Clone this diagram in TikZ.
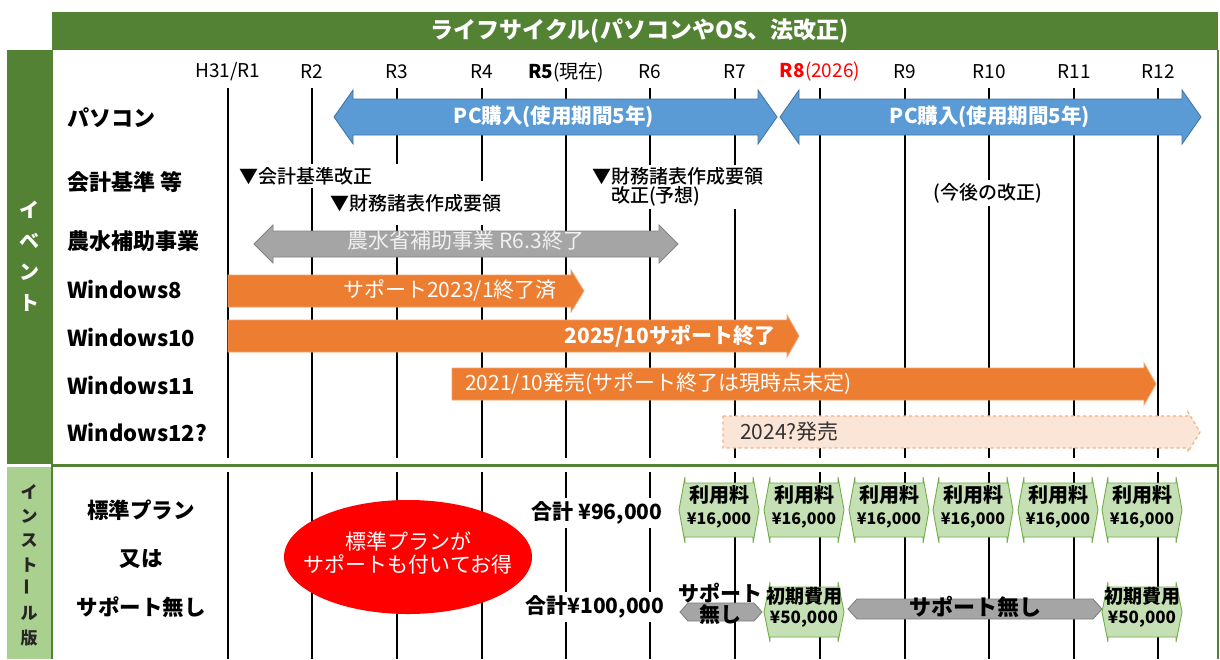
\documentclass[tikz,border=0pt]{standalone}
\usepackage{fontspec}
\setmainfont{Noto Sans CJK JP}
\newfontfamily\medfont{Noto Sans CJK JP}[UprightFont={* Medium}]
\usepackage{graphicx}

\definecolor{hdgreen}{HTML}{548235}
\definecolor{ltgreen}{HTML}{A9D08E}
\definecolor{pcblue}{HTML}{5B9BD5}
\definecolor{pcblueline}{HTML}{41719C}
\definecolor{hojogray}{HTML}{A5A5A5}
\definecolor{winorange}{HTML}{ED7D31}
\definecolor{winpeach}{HTML}{FBE5D6}
\definecolor{winpeachline}{HTML}{F4B183}
\definecolor{feegreen}{HTML}{C5E0B4}
\definecolor{feegreenline}{HTML}{70AD47}

% [style]{x from}{x to}{y}{shaft half}{head half}{head length}
\newcommand{\dblarrow}[7][]{%
  \path[#1] (#2,#4) -- ++(#7,-#6) -- ++(0,{#6-#5}) -- ({#3-#7},{#4-#5}) -- ++(0,{#5-#6}) -- (#3,#4)
    -- ++(-#7,#6) -- ++(0,{#5-#6}) -- ({#2+#7},{#4+#5}) -- ++(0,{#6-#5}) -- cycle;}
\newcommand{\onearrow}[7][]{%
  \path[#1] (#2,{#4-#5}) -- ({#3-#7},{#4-#5}) -- ++(0,{#5-#6}) -- (#3,#4)
    -- ({#3-#7},{#4+#6}) -- ++(0,{#5-#6}) -- (#2,{#4+#5}) -- cycle;}

\begin{document}
\begin{tikzpicture}[x=1pt, y=-1pt,
    yearlab/.style={font=\fontsize{19}{19}\selectfont},
    rowlab/.style={anchor=west, inner sep=0pt, font=\fontsize{22}{22}\selectfont\bfseries},
    notelab/.style={fill=white, inner sep=3pt, align=left, font=\fontsize{19}{19}\selectfont\medfont},
    bartext/.style={inner sep=0pt, text=white, font=\fontsize{21}{21}\selectfont},
    yline/.style={line width=1.2pt},
    pcbar/.style={fill=pcblue, draw=pcblueline, line width=0.8pt},
    hojobar/.style={fill=hojogray, draw=hojogray!80!black, line width=0.8pt},
    winbar/.style={fill=winorange, draw=winorange!70!white, line width=0.8pt},
    newbar/.style={fill=winpeach, draw=winpeachline, dashed, line width=1.2pt},
    feebox/.style={fill=feegreen, draw=feegreenline, line width=0.9pt},
    nosupbar/.style={fill=hojogray, draw=hojogray!75!black, line width=0.8pt},
    feetext/.style={inner sep=0pt, align=center, font=\fontsize{16}{22}\selectfont\bfseries},
    planlab/.style={inner sep=0pt, font=\fontsize{21.5}{21.5}\selectfont\bfseries},
    sumlab/.style={fill=white, inner sep=4pt, font=\fontsize{21}{21}\selectfont\bfseries},
  ]

  \useasboundingbox (0,0) rectangle (1220,659);
  \fill[white] (0,0) rectangle (1220,659);

  \fill[hdgreen] (52,12) rectangle (1218,50);
  \fill[hdgreen] (7,50) rectangle (52,464);
  \fill[ltgreen] (7,467) rectangle (52,659);
  \draw[hdgreen, line width=1.5pt] (52,50) -- (52,659);
  \draw[hdgreen, line width=1.5pt] (1218,50) -- (1218,659);

  \node[text=white, font=\fontsize{23}{23}\selectfont\bfseries] (ttl) at (640,31) {ライフサイクル(パソコンやOS、法改正)};
  \node[text=white, align=center, font=\fontsize{20}{31}\selectfont\bfseries] (ev) at (29,256) {イ\\ベ\\ン\\ト};
  \node[text=black!85, align=center, font=\fontsize{17}{24.3}\selectfont\bfseries] (inst) at (29,565) {イ\\ン\\ス\\ト\\\rotatebox{90}{ー}\\ル\\版};

  \node[yearlab] (h31) at (228,72) {H31/R1};
  \node[yearlab] (r2) at (312,72) {R2};
  \node[yearlab] (r3) at (397,72) {R3};
  \node[yearlab] (r4) at (482,72) {R4};
  \node[yearlab] (r5) at (566,72) {{\bfseries R5}(現在)};
  \node[yearlab] (r6) at (650,72) {R6};
  \node[yearlab] (r7) at (735,72) {R7};
  \node[yearlab, text=red] (r8) at (820,72) {{\bfseries R8}(2026)};
  \node[yearlab] (r9) at (905,72) {R9};
  \node[yearlab] (r10) at (989,72) {R10};
  \node[yearlab] (r11) at (1074,72) {R11};
  \node[yearlab] (r12) at (1158,72) {R12};

  \coordinate (top) at (0,88);
  \coordinate (bot) at (0,659);
  \draw[yline] (h31 |- top) -- (h31 |- bot);
  \draw[yline] (r2 |- top) -- (r2 |- bot);
  \draw[yline] (r3 |- top) -- (r3 |- bot);
  \draw[yline] (r4 |- top) -- (r4 |- bot);
  \draw[yline] (r5 |- top) -- (r5 |- bot);
  \draw[yline] (r6 |- top) -- (r6 |- bot);
  \draw[yline] (r7 |- top) -- (r7 |- bot);
  \draw[yline] (r8 |- top) -- (r8 |- bot);
  \draw[yline] (r9 |- top) -- (r9 |- bot);
  \draw[yline] (r10 |- top) -- (r10 |- bot);
  \draw[yline] (r11 |- top) -- (r11 |- bot);
  \draw[yline] (r12 |- top) -- (r12 |- bot);

  \fill[white] (53,458) rectangle (1217,472);
  \draw[hdgreen, line width=3pt] (52,465) -- (1218,465);

  \node[rowlab] (pasokon) at (67,118) {パソコン};
  \node[rowlab] (kaikei) at (67,182) {会計基準 等};
  \node[rowlab] (nosui) at (67,241) {農水補助事業};
  \node[rowlab] (win8) at (67,290) {Windows8};
  \node[rowlab] (win10) at (67,338) {Windows10};
  \node[rowlab] (win11) at (67,386) {Windows11};
  \node[rowlab] (win12) at (67,433) {Windows12?};

  \dblarrow[pcbar]{334}{777}{117}{18}{27}{19}
  \node[bartext, font=\fontsize{20.5}{20.5}\selectfont\bfseries] (pc1) at (554,117) {PC購入(使用期間5年)};
  \dblarrow[pcbar]{780}{1201}{117}{18}{27}{19}
  \node[bartext, font=\fontsize{20.5}{20.5}\selectfont\bfseries] (pc2) at (990,117) {PC購入(使用期間5年)};

  \node[notelab, anchor=west, minimum height=44pt] (yoryo) at (327,203) {▼財務諸表作成要領};
  \node[notelab, anchor=west, text width=158pt] (kijun) at (236,176) {▼会計基準改正};
  \node[notelab, anchor=west] (yoso) at (589,187) {▼財務諸表作成要領\\　改正(予想)};
  \node[notelab] (kongo) at (988,193) {(今後の改正)};

  \dblarrow[hojobar]{254}{678}{244}{13}{19}{19}
  \node[bartext, text=white!88!gray] (hojo) at (466,241) {農水省補助事業 R6.3終了};

  \onearrow[winbar]{228}{584}{291}{16}{21}{13}
  \node[bartext] (sup8) at (450,290) {サポート2023/1終了済};
  \onearrow[winbar]{228}{799}{336}{16}{21}{12}
  \node[bartext, font=\fontsize{21}{21}\selectfont\bfseries] (sup10) at (670,336) {2025/10サポート終了};
  \onearrow[winbar]{452}{1156}{384}{16}{21}{12}
  \node[bartext, anchor=west] (sup11) at (465,384) {2021/10発売(サポート終了は現時点未定)};
  \onearrow[newbar]{723}{1200}{432}{16}{20}{12}
  \node[bartext, anchor=west, text=black!80] (sup12) at (740,432) {2024?発売};

  \node[planlab] (std) at (141,510) {標準プラン};
  \node[planlab] (or) at (141,559) {又は};
  \node[planlab] (nosup) at (141,607) {サポート無し};

  \fill[red] (408,557) ellipse [x radius=124pt, y radius=57pt];
  \node[inner sep=0pt, text=white, align=center, font=\fontsize{21}{23}\selectfont] (otoku) at (408,553) {標準プランが\\サポートも付いてお得};

  \node[sumlab] (sum1) at (597,513) {合計 ¥96,000};
  \node[sumlab] (sum2) at (595,607) {合計¥100,000};

  \dblarrow[feebox]{679}{759}{510}{27}{33}{6}
  \dblarrow[feebox]{764}{844}{510}{27}{33}{6}
  \dblarrow[feebox]{849}{929}{510}{27}{33}{6}
  \dblarrow[feebox]{933}{1013}{510}{27}{33}{6}
  \dblarrow[feebox]{1018}{1098}{510}{27}{33}{6}
  \dblarrow[feebox]{1102}{1182}{510}{27}{33}{6}
  \node[feetext] (f1) at (719,507) {{\fontsize{20}{22}\selectfont 利用料}\\¥16,000};
  \node[feetext] (f2) at (804,507) {{\fontsize{20}{22}\selectfont 利用料}\\¥16,000};
  \node[feetext] (f3) at (889,507) {{\fontsize{20}{22}\selectfont 利用料}\\¥16,000};
  \node[feetext] (f4) at (973,507) {{\fontsize{20}{22}\selectfont 利用料}\\¥16,000};
  \node[feetext] (f5) at (1058,507) {{\fontsize{20}{22}\selectfont 利用料}\\¥16,000};
  \node[feetext] (f6) at (1142,507) {{\fontsize{20}{22}\selectfont 利用料}\\¥16,000};

  \dblarrow[nosupbar]{680}{762}{612}{9}{9}{8}
  \node[inner sep=0pt, align=center, font=\fontsize{21}{21}\selectfont\bfseries] (ns1) at (720,604) {サポート\\無し};
  \dblarrow[feebox]{764}{844}{612}{25}{30}{6}
  \node[feetext, font=\fontsize{17}{20}\selectfont\bfseries] (i1) at (804,607) {{\fontsize{19}{20}\selectfont 初期費用}\\¥50,000};
  \dblarrow[nosupbar]{848}{1102}{609}{10}{10}{9}
  \node[inner sep=0pt, font=\fontsize{22}{22}\selectfont\bfseries] (ns2) at (975,607) {サポート無し};
  \dblarrow[feebox]{1102}{1182}{612}{25}{30}{6}
  \node[feetext, font=\fontsize{17}{20}\selectfont\bfseries] (i2) at (1142,607) {{\fontsize{19}{20}\selectfont 初期費用}\\¥50,000};

\end{tikzpicture}
\end{document}
